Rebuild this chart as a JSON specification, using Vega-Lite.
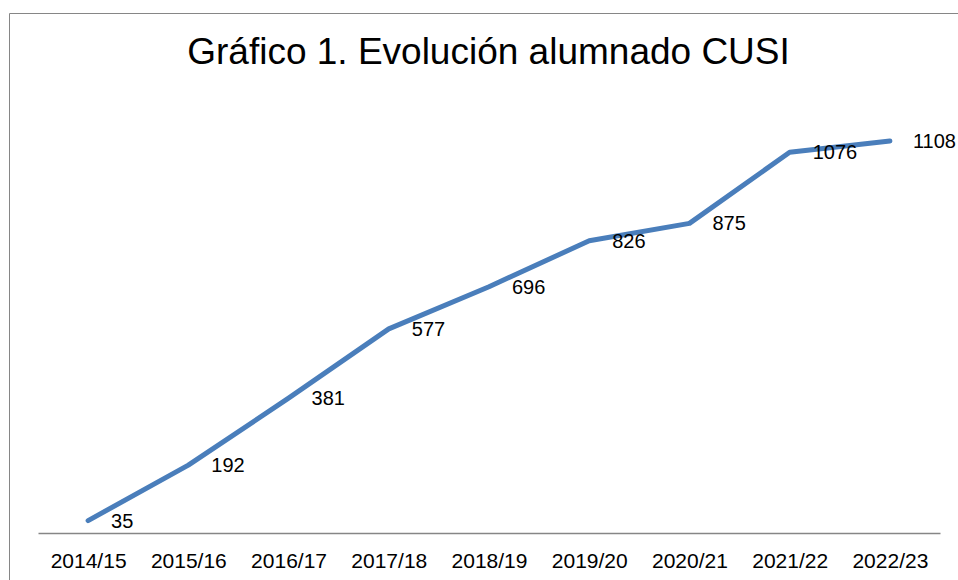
{
  "$schema": "https://vega.github.io/schema/vega-lite/v6.json",
  "autosize": {"type": "none"},
  "padding": {"left": 9, "top": 13, "right": 0, "bottom": 0},
  "width": 959,
  "height": 600,
  "background": "white",
  "title": {
    "text": "Gráfico 1. Evolución alumnado CUSI",
    "font": "Liberation Sans",
    "fontSize": 37,
    "fontWeight": "normal",
    "color": "#000000",
    "anchor": "middle",
    "frame": "group",
    "baseline": "alphabetic",
    "offset": 0,
    "dy": 88
  },
  "config": {
    "view": {"stroke": "#868686", "strokeWidth": 1},
    "font": "Liberation Sans"
  },
  "data": {
    "values": [
      {"curso": "2014/15", "alumnos": 35},
      {"curso": "2015/16", "alumnos": 192},
      {"curso": "2016/17", "alumnos": 381},
      {"curso": "2017/18", "alumnos": 577},
      {"curso": "2018/19", "alumnos": 696},
      {"curso": "2019/20", "alumnos": 826},
      {"curso": "2020/21", "alumnos": 875},
      {"curso": "2021/22", "alumnos": 1076},
      {"curso": "2022/23", "alumnos": 1108}
    ]
  },
  "encoding": {
    "x": {
      "field": "curso",
      "type": "ordinal",
      "sort": null,
      "scale": {"type": "point", "padding": 0.5, "range": [29, 931]},
      "axis": {
        "title": null,
        "orient": "bottom",
        "offset": -80,
        "labelAngle": 0,
        "ticks": false,
        "tickSize": 0,
        "labelPadding": 34,
        "labelBaseline": "alphabetic",
        "labelFont": "Liberation Sans",
        "labelFontSize": 21,
        "labelColor": "#000000",
        "domainColor": "#868686",
        "domainWidth": 1.5,
        "grid": false
      }
    },
    "y": {
      "field": "alumnos",
      "type": "quantitative",
      "scale": {"domain": [0, 1200], "range": [520, 95.4]},
      "axis": null
    }
  },
  "layer": [
    {
      "mark": {"type": "line", "color": "#4a7ebb", "strokeWidth": 5, "strokeCap": "round", "strokeJoin": "round"}
    },
    {
      "mark": {"type": "text", "align": "left", "baseline": "middle", "dx": 23, "dy": 1, "font": "Liberation Sans", "fontSize": 20, "color": "#000000"},
      "encoding": {"text": {"field": "alumnos", "type": "quantitative"}}
    }
  ]
}
